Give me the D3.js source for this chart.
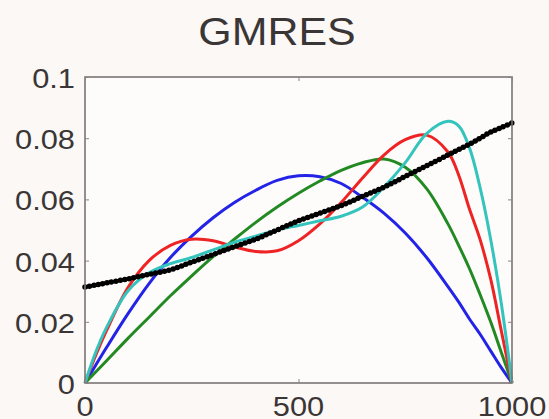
<!DOCTYPE html>
<html>
<head>
<meta charset="utf-8">
<script src="https://cdn.jsdelivr.net/npm/d3@7"></script>
<style>
  html, body { margin: 0; padding: 0; background: #fcf8f6; }
  svg { display: block; }
  text { font-family: "Liberation Sans", Arial, Helvetica, sans-serif; fill: #3a3636; }
</style>
</head>
<body>
<svg id="chart" width="549" height="419"></svg>
<script>
// Sample positions along the interval
const xs = [0, 25, 50, 100, 150, 200, 250, 300, 350, 400, 450, 500, 550, 600, 650, 700, 750, 800, 850, 875, 900, 925, 950, 975, 1000];

// Residual polynomial curves
const blue  = [0, 0.0058, 0.0115, 0.0225, 0.0325, 0.041, 0.048, 0.054, 0.059, 0.063, 0.0662, 0.0677, 0.0674, 0.0652, 0.0607, 0.0555, 0.049, 0.041, 0.0315, 0.0265, 0.021, 0.016, 0.0105, 0.005, 0];
const green = [0, 0.0036, 0.0072, 0.0145, 0.0215, 0.0285, 0.035, 0.0413, 0.047, 0.0525, 0.0575, 0.062, 0.066, 0.0695, 0.072, 0.0732, 0.0705, 0.0635, 0.052, 0.045, 0.0375, 0.029, 0.020, 0.010, 0];
const red   = [0, 0.009, 0.017, 0.031, 0.040, 0.045, 0.047, 0.0465, 0.0445, 0.043, 0.0432, 0.0465, 0.052, 0.059, 0.067, 0.0745, 0.0795, 0.081, 0.0755, 0.068, 0.057, 0.047, 0.034, 0.017, 0];
const cyan  = [0, 0.010, 0.018, 0.030, 0.036, 0.039, 0.041, 0.0435, 0.046, 0.048, 0.050, 0.0515, 0.053, 0.0545, 0.0575, 0.064, 0.072, 0.0815, 0.0855, 0.084, 0.077, 0.064, 0.047, 0.026, 0];
const black = [0.0314, 0.032, 0.0327, 0.034, 0.0355, 0.037, 0.0395, 0.042, 0.0445, 0.047, 0.050, 0.053, 0.0555, 0.058, 0.061, 0.064, 0.0675, 0.071, 0.0745, 0.0763, 0.078, 0.080, 0.082, 0.0835, 0.085];

const xTicks = [0, 500, 1000];
const xTickLabels = ["0", "500", "1000"];
const yTicks = [0, 0.02, 0.04, 0.06, 0.08, 0.1];
const yTickLabels = ["0", "0.02", "0.04", "0.06", "0.08", "0.1"];
const title = "GMRES";

const svg = d3.select("#chart");
const L = 85, R = 512, T = 77, B = 383;

const x = d3.scaleLinear().domain([0, 1000]).range([L, R]);
const y = d3.scaleLinear().domain([0, 0.1]).range([B, T]);

// plot background
svg.append("rect").attr("x", L).attr("y", T).attr("width", R - L).attr("height", B - T)
  .attr("fill", "#fefcfb");

const line = d3.line().x(d => x(d[0])).y(d => y(d[1])).curve(d3.curveCatmullRom.alpha(0.5));
const pts = arr => xs.map((v, i) => [v, arr[i]]);

const series = [
  { data: blue,  color: "#2323e8" },
  { data: green, color: "#238a23" },
  { data: red,   color: "#ee2424" },
  { data: cyan,  color: "#33c4bd" }
];
const g = svg.append("g");
series.forEach(s => {
  g.append("path").attr("d", line(pts(s.data)))
    .attr("fill", "none").attr("stroke", s.color)
    .attr("stroke-width", 3).attr("stroke-linejoin", "round");
});

// dotted black curve
g.append("path").attr("d", line(pts(black)))
  .attr("fill", "none").attr("stroke", "#111").attr("stroke-width", 3.2);
g.append("path").attr("d", line(pts(black)))
  .attr("fill", "none").attr("stroke", "#000").attr("stroke-width", 5.5)
  .attr("stroke-linecap", "round").attr("stroke-dasharray", "0 4.5");

// axes box
svg.append("rect").attr("x", L).attr("y", T).attr("width", R - L).attr("height", B - T)
  .attr("fill", "none").attr("stroke", "#7a7474").attr("stroke-width", 1.6);

// inward ticks on all sides
const axL = d3.axisLeft(y).tickValues(yTicks).tickSize(-4).tickFormat("");
const axR = d3.axisRight(y).tickValues(yTicks).tickSize(-4).tickFormat("");
const axB = d3.axisBottom(x).tickValues(xTicks).tickSize(-4).tickFormat("");
const axT = d3.axisTop(x).tickValues(xTicks).tickSize(-4).tickFormat("");
[[axL, `translate(${L},0)`], [axR, `translate(${R},0)`], [axB, `translate(0,${B})`], [axT, `translate(0,${T})`]]
  .forEach(([ax, tr]) => {
    const a = svg.append("g").attr("transform", tr).call(ax);
    a.select(".domain").remove();
    a.selectAll("line").attr("stroke", "#8a8484").attr("stroke-width", 1);
  });

// tick labels (slightly widened glyphs)
const sx = 1.1;
yTicks.forEach((v, i) => {
  svg.append("text")
    .attr("transform", `translate(${L - 10},${y(v) + 11}) scale(${sx},1)`)
    .attr("text-anchor", "end").attr("font-size", 28)
    .text(yTickLabels[i]);
});
xTicks.forEach((v, i) => {
  svg.append("text")
    .attr("transform", `translate(${x(v)},${B + 33}) scale(${sx},1)`)
    .attr("text-anchor", "middle").attr("font-size", 28)
    .text(xTickLabels[i]);
});

svg.append("text")
  .attr("transform", `translate(277,45) scale(${sx},1)`)
  .attr("text-anchor", "middle").attr("font-size", 39)
  .text(title);
</script>
</body>
</html>
